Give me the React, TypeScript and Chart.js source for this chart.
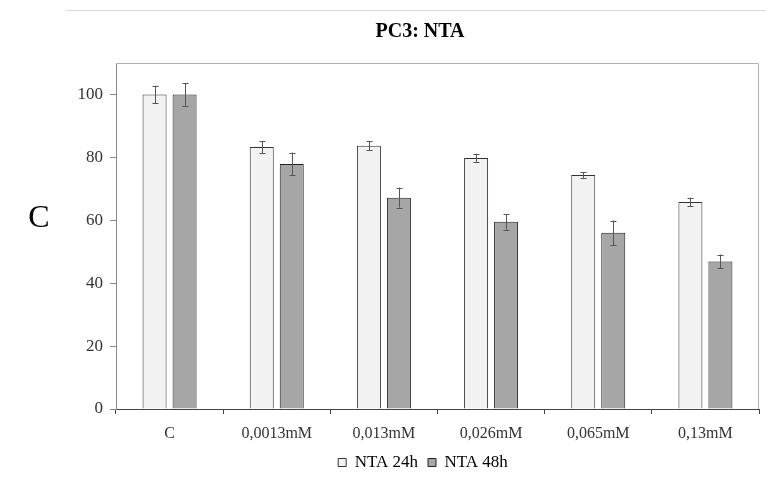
import React, { useEffect, useRef } from "react";
import { Chart, registerables } from "chart.js";

Chart.register(...registerables);

const titleText = "PC3: NTA";
const panelLetter = "C";
const categories = ["C", "0,0013mM", "0,013mM", "0,026mM", "0,065mM", "0,13mM"];
const seriesNames = ["NTA 24h", "NTA 48h"];
const nta24 = [100, 83.3, 83.7, 79.8, 74.4, 65.8];
const nta24Err = [2.8, 1.9, 1.5, 1.3, 0.9, 1.4];
const nta48 = [100, 77.9, 67.2, 59.5, 56.0, 46.9];
const nta48Err = [3.6, 3.6, 3.2, 2.5, 3.9, 2.2];
const yTicks = [0, 20, 40, 60, 80, 100];
const yMax = 110;

const FONT = "'Liberation Serif', 'Times New Roman', serif";

const errorsByDataset = [nta24Err, nta48Err];

const extrasPlugin = {
  id: "extras",
  afterLayout(chart: any) {
    if (chart.legend) chart.legend.left = 87;
    if (chart.titleBlock) chart.titleBlock.left = 81;
  },
  beforeDraw(chart: any) {
    const { ctx } = chart;
    ctx.save();
    ctx.strokeStyle = "#d9d9d9";
    ctx.lineWidth = 1;
    ctx.beginPath();
    ctx.moveTo(66, 10.5);
    ctx.lineTo(766, 10.5);
    ctx.stroke();
    ctx.fillStyle = "#000";
    ctx.font = "32px " + FONT;
    ctx.textAlign = "center";
    ctx.textBaseline = "middle";
    ctx.fillText(panelLetter, 39, 219);
    ctx.restore();
  },
  afterDraw(chart: any) {
    const { ctx, chartArea } = chart;
    ctx.save();
    ctx.strokeStyle = "#b0b0b0";
    ctx.lineWidth = 1;
    ctx.beginPath();
    ctx.moveTo(chartArea.left, chartArea.top + 0.5);
    ctx.lineTo(chartArea.right - 0.5, chartArea.top + 0.5);
    ctx.lineTo(chartArea.right - 0.5, chartArea.bottom);
    ctx.stroke();
    ctx.restore();
  },
  afterDatasetsDraw(chart: any) {
    const { ctx } = chart;
    const yScale = chart.scales.y;
    ctx.save();
    ctx.strokeStyle = "#555";
    ctx.lineWidth = 1;
    chart.data.datasets.forEach((ds: any, i: number) => {
      const meta = chart.getDatasetMeta(i);
      const errs = errorsByDataset[i];
      meta.data.forEach((bar: any, j: number) => {
        const v = ds.data[j];
        const e = errs[j];
        const x = Math.round(bar.x) + 0.5;
        const yTop = yScale.getPixelForValue(v + e);
        const yBot = yScale.getPixelForValue(v - e);
        ctx.beginPath();
        ctx.moveTo(x, yTop);
        ctx.lineTo(x, yBot);
        ctx.moveTo(x - 3, Math.round(yTop) + 0.5);
        ctx.lineTo(x + 3, Math.round(yTop) + 0.5);
        ctx.moveTo(x - 3, Math.round(yBot) + 0.5);
        ctx.lineTo(x + 3, Math.round(yBot) + 0.5);
        ctx.stroke();
      });
    });
    ctx.restore();
  },
};

export default function App() {
  const ref = useRef<HTMLCanvasElement | null>(null);

  useEffect(() => {
    if (!ref.current) return;
    const chart = new Chart(ref.current, {
      type: "bar",
      data: {
        labels: categories,
        datasets: [
          {
            label: seriesNames[0],
            data: nta24,
            backgroundColor: "#f2f2f2",
            borderColor: "#333",
            borderWidth: 1,
            categoryPercentage: 0.56,
            barPercentage: 0.8,
          },
          {
            label: seriesNames[1],
            data: nta48,
            backgroundColor: "#a6a6a6",
            borderColor: "#222",
            borderWidth: 1,
            categoryPercentage: 0.56,
            barPercentage: 0.8,
          },
        ],
      },
      options: {
        responsive: false,
        animation: false,
        layout: { padding: { left: 0, right: 7, top: 0, bottom: -2 } },
        plugins: {
          title: {
            display: true,
            text: titleText,
            color: "#000",
            font: { family: FONT, size: 20, weight: "bold" },
            padding: { top: 20, bottom: 19 },
          },
          legend: {
            display: true,
            position: "bottom",
            labels: {
              color: "#000",
              font: { family: FONT, size: 17 },
              boxWidth: 8,
              boxHeight: 8,
              padding: 10,
            },
          },
          tooltip: { enabled: false },
        },
        scales: {
          x: {
            grid: {
              offset: true,
              drawOnChartArea: false,
              drawTicks: true,
              tickLength: 5,
              color: "#444",
            },
            border: { display: true, color: "#444" },
            ticks: {
              color: "#333",
              font: { family: FONT, size: 16 },
              padding: 10,
              maxRotation: 0,
              autoSkip: false,
            },
            afterFit: (s: any) => {
              s.height = 35;
            },
          },
          y: {
            min: 0,
            max: yMax,
            grid: {
              drawOnChartArea: false,
              drawTicks: true,
              tickLength: 6,
              color: "#888",
            },
            border: { display: true, color: "#888" },
            ticks: {
              color: "#333",
              font: { family: FONT, size: 17 },
              padding: 7,
            },
            afterBuildTicks: (s: any) => {
              s.ticks = yTicks.map((v) => ({ value: v }));
            },
            afterFit: (s: any) => {
              s.width = 116;
            },
          },
        },
      },
      plugins: [extrasPlugin],
    });
    return () => chart.destroy();
  }, []);

  return (
    <div style={{ position: "absolute", left: 0, top: 0, width: 766, height: 479, background: "#fff" }}>
      <canvas ref={ref} width={766} height={479} />
    </div>
  );
}
